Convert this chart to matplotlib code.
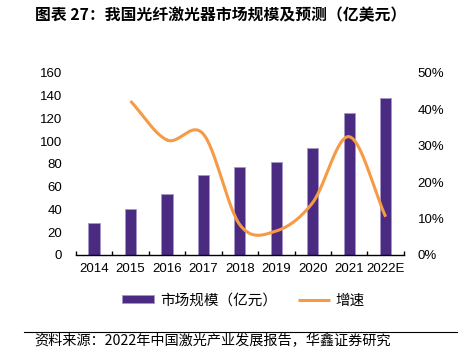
import matplotlib
matplotlib.use("Agg")
import matplotlib.pyplot as plt
import numpy as np

plt.rcParams['font.family'] = ['Liberation Sans', 'Noto Sans CJK SC', 'DejaVu Sans']

# data
years = ["2014", "2015", "2016", "2017", "2018", "2019", "2020", "2021", "2022E"]
market = [27.8, 40.2, 53.3, 70.6, 77.1, 82.0, 93.8, 124.6, 137.8]
growth = [None, 42.3, 31.6, 33.2, 8.3, 6.6, 14.4, 32.5, 10.5]

purple = "#4b2a82"
orange = "#f79a46"
cjk = ['Noto Sans CJK SC', 'DejaVu Sans']


def smooth(xs, ys, n=30):
    # catmull-rom style curve through the points, like Excel's smoothed line
    xs = np.asarray(xs, float)
    ys = np.asarray(ys, float)
    px = np.concatenate([[2 * xs[0] - xs[1]], xs, [2 * xs[-1] - xs[-2]]])
    py = np.concatenate([[2 * ys[0] - ys[1]], ys, [2 * ys[-1] - ys[-2]]])
    outx, outy = [], []
    t = np.linspace(0, 1, n)
    for i in range(1, len(px) - 2):
        for p, out in ((px, outx), (py, outy)):
            p0, p1, p2, p3 = p[i - 1], p[i], p[i + 1], p[i + 2]
            out.extend(0.5 * ((2 * p1) + (-p0 + p2) * t
                              + (2 * p0 - 5 * p1 + 4 * p2 - p3) * t ** 2
                              + (-p0 + 3 * p1 - 3 * p2 + p3) * t ** 3))
    return np.array(outx), np.array(outy)


fig = plt.figure(figsize=(4.74, 3.64), dpi=100)
ax = fig.add_axes([0.160, 0.2995, 0.692, 0.5])
x = np.arange(len(years))
ax.bar(x, market, width=0.31, color=purple, edgecolor="#a497c8", linewidth=0.6,
       label="市场规模（亿元）", zorder=2)
ax.set_xlim(-0.5, len(years) - 0.5)
ax.set_ylim(0, 160)
ax.set_yticks(np.arange(0, 161, 20))
ax.set_xticks(x)
ax.set_xticklabels(years)
ax.set_xticks(np.arange(-0.5, len(years), 1), minor=True)
ax.tick_params(axis='x', which='major', length=0, labelsize=9.5, pad=6)
ax.tick_params(axis='x', which='minor', direction='in', length=3, width=1)
ax.tick_params(axis='y', length=0, labelsize=9.5, pad=10)
for s in ("top", "left", "right"):
    ax.spines[s].set_visible(False)
ax.spines["bottom"].set_linewidth(1)

ax2 = ax.twinx()
gx = [i for i, g in enumerate(growth) if g is not None]
gy = [g for g in growth if g is not None]
sx, sy = smooth(gx, gy)
ax2.plot(sx, sy, color=orange, lw=2.2, solid_capstyle='butt', label="增速", zorder=3)
ax2.set_ylim(0, 50)
ax2.set_yticks(np.arange(0, 51, 10))
ax2.set_yticklabels([f"{v}%" for v in range(0, 51, 10)])
ax2.tick_params(axis='y', length=0, labelsize=9.5, pad=10)
for s in ("top", "left", "right", "bottom"):
    ax2.spines[s].set_visible(False)

h1, l1 = ax.get_legend_handles_labels()
h2, l2 = ax2.get_legend_handles_labels()
fig.legend(h1 + h2, l1 + l2, loc="center", bbox_to_anchor=(0.514, 0.175), ncol=2,
           frameon=False, prop={'family': cjk, 'size': 10.5},
           handlelength=2.2, handleheight=0.4, columnspacing=1.4, handletextpad=0.4)

fig.text(0.074, 0.958, "图表 27：我国光纤激光器市场规模及预测（亿美元）", family=cjk,
         fontsize=11.4, fontweight='bold', va='center', ha='left')
fig.add_artist(plt.Line2D([0.051, 0.964], [0.088, 0.088], color="black", lw=0.8))
fig.text(0.072, 0.062, "资料来源：2022年中国激光产业发展报告，华鑫证券研究", family=cjk,
         fontsize=10.2, va='center', ha='left')

fig.savefig("out.png", dpi=100)
